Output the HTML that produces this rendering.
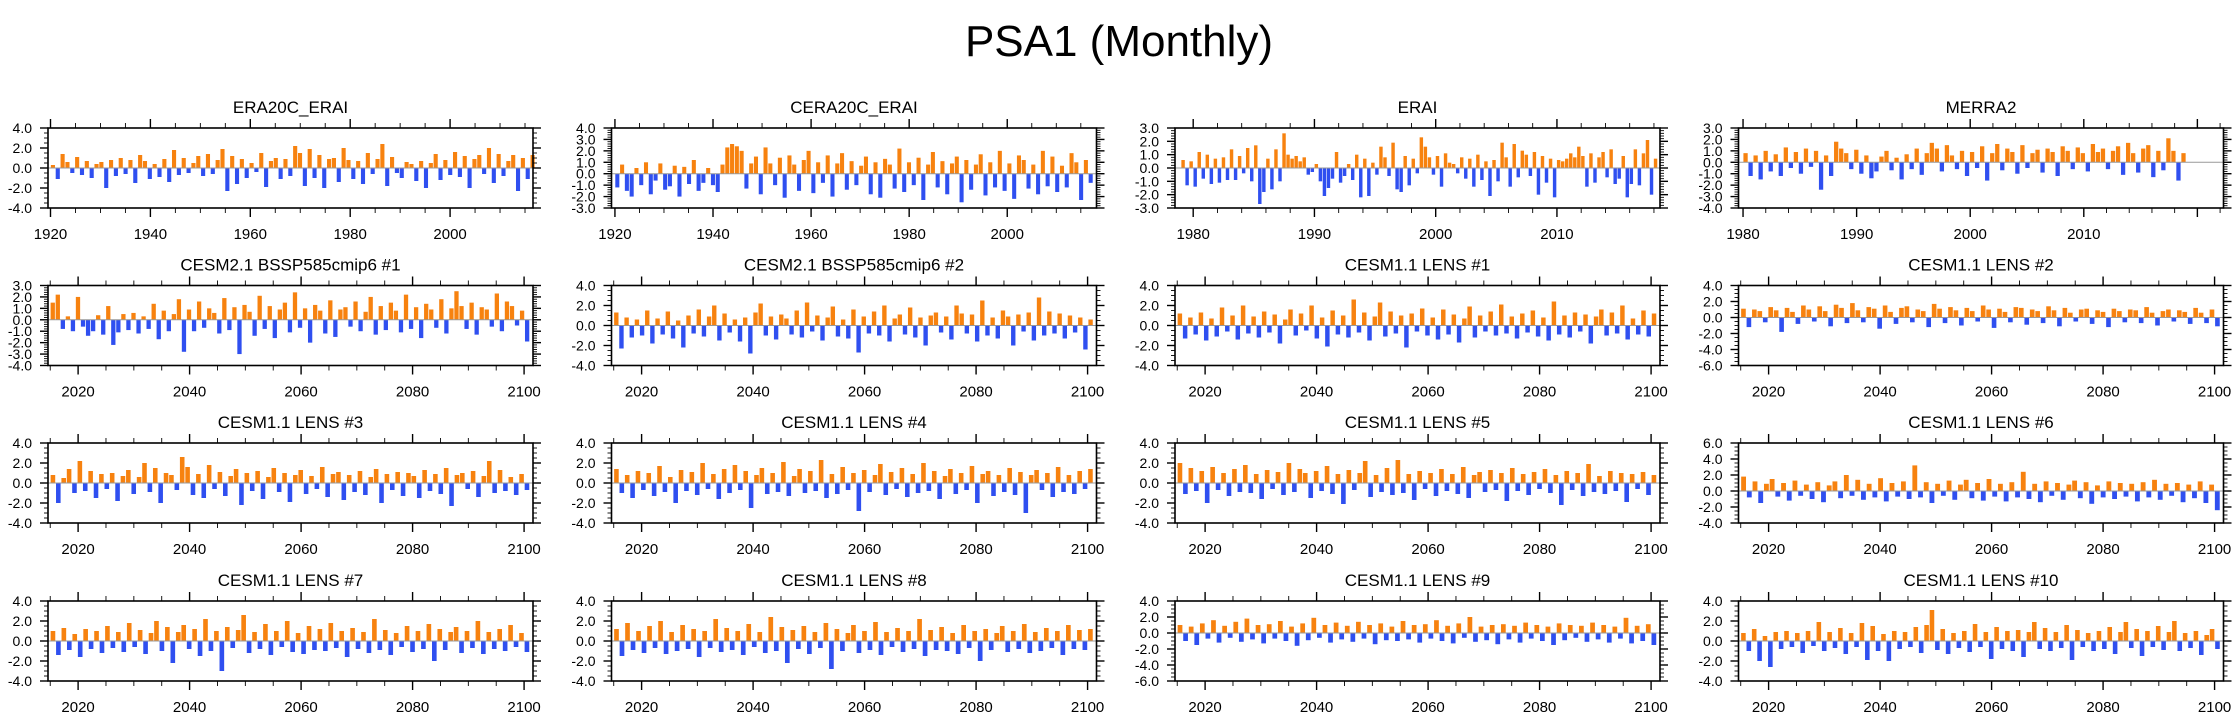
<!DOCTYPE html>
<html><head><meta charset="utf-8">
<style>
html,body{margin:0;padding:0;background:#fff;}
svg{display:block;font-family:"Liberation Sans",sans-serif;}
</style></head>
<body>
<svg id="fig" width="2238" height="719" viewBox="0 0 2238 719">
<text x="1119" y="56" text-anchor="middle" font-size="44">PSA1 (Monthly)</text>
</svg>
<script>
// ---- data arrays ----
const titles = ["ERA20C_ERAI","CERA20C_ERAI","ERAI","MERRA2",
"CESM2.1 BSSP585cmip6 #1","CESM2.1 BSSP585cmip6 #2","CESM1.1 LENS #1","CESM1.1 LENS #2",
"CESM1.1 LENS #3","CESM1.1 LENS #4","CESM1.1 LENS #5","CESM1.1 LENS #6",
"CESM1.1 LENS #7","CESM1.1 LENS #8","CESM1.1 LENS #9","CESM1.1 LENS #10"];
const xRanges = [[1919.5,2016.6],[1919.3,2018.2],[1978.5,2018.5],[1979.6,2022.3],
[2014.6,2101.6],[2014.6,2101.6],[2014.6,2101.6],[2014.6,2101.6],
[2014.6,2101.6],[2014.6,2101.6],[2014.6,2101.6],[2014.6,2101.6],
[2014.6,2101.6],[2014.6,2101.6],[2014.6,2101.6],[2014.6,2101.6]];
const dataSpans = [[1920,2017],[1920,2017.5],[1979,2018.3],[1980,2019],
[2015,2101],[2015,2101],[2015,2101],[2015,2101],[2015,2101],[2015,2101],[2015,2101],[2015,2101],
[2015,2101],[2015,2101],[2015,2101],[2015,2101]];
const yRanges = [[-4,4,2],[-3,4,1],[-3,3,1],[-4,3,1],
[-4,3,1],[-4,4,2],[-4,4,2],[-6,4,2],
[-4,4,2],[-4,4,2],[-4,4,2],[-4,6,2],
[-4,4,2],[-4,4,2],[-6,4,2],[-4,4,2]];
const xTickLabels = [[1920,1940,1960,1980,2000],[1920,1940,1960,1980,2000],[1980,1990,2000,2010],[1980,1990,2000,2010],
[2020,2040,2060,2080,2100]];
const s1=[0.3,-1.1,1.4,0.6,-0.5,1.1,-0.7,0.7,-1.0,0.4,0.6,-2.0,0.8,-0.8,1.0,-0.6,0.8,-1.5,1.3,0.7,-1.1,0.4,-0.9,0.9,-1.4,1.8,-0.7,1.0,-0.5,0.5,1.2,-0.8,1.4,-0.6,0.8,1.9,-2.3,1.2,-1.6,0.9,-1.0,0.5,-0.4,1.5,-1.9,0.7,1.0,-1.1,0.9,-0.8,2.2,1.5,-1.8,1.9,-1.0,1.3,-2.0,0.9,1.0,-1.4,2.0,0.8,-1.1,0.7,-1.6,1.5,-0.6,0.9,2.4,-1.8,1.1,-0.5,-1.0,0.6,0.4,-1.3,0.7,-2.0,0.5,1.4,-1.2,0.8,-0.7,1.6,-0.9,1.2,-2.0,0.9,1.3,-0.6,2.0,-1.5,1.4,-0.8,0.7,1.3,-2.3,1.0,-1.1,1.3];
const s2=[-1.2,0.8,-1.5,-2.0,0.5,-1.0,1.0,-1.8,-0.6,0.9,-1.4,-1.1,0.7,-2.0,0.6,-0.9,1.2,-1.5,-0.8,0.5,-1.0,-1.6,0.8,2.3,2.6,2.4,2.0,-1.3,0.9,1.5,-1.8,2.3,0.9,-1.0,1.4,-2.1,1.6,0.8,-1.5,1.2,2.0,-1.7,1.0,-0.8,1.6,-2.0,0.9,1.8,-1.4,1.1,-1.0,0.7,1.5,-1.8,1.0,-2.1,1.3,0.8,-1.3,2.2,-1.6,1.0,-1.0,1.4,-2.3,0.8,1.9,-1.2,1.1,-1.8,0.9,1.5,-2.5,1.2,-1.4,0.8,1.7,-1.9,1.0,-1.2,2.0,-1.5,0.9,-2.2,1.6,1.2,-1.3,0.8,-1.8,2.0,-1.1,1.5,-1.6,0.7,-1.2,1.8,1.0,-2.3,1.2,-0.8];
const s3=[0.6,-1.3,0.5,-1.4,1.2,-0.8,1.0,-1.2,0.7,-1.1,0.8,-0.9,1.4,-0.9,0.9,-0.4,1.5,-1.0,1.7,-2.7,-1.8,0.7,-1.6,1.4,-1.0,2.6,1.0,0.7,0.9,0.5,0.8,-0.5,-0.3,0.3,-1.0,-2.1,-1.5,-0.8,1.2,-1.1,-0.6,0.3,-0.9,1.0,-2.2,0.7,-2.1,0.4,-0.5,1.6,0.8,-0.6,1.9,-1.6,-1.8,0.9,-1.3,0.7,-0.4,2.3,1.6,0.8,-0.5,0.9,-1.4,1.1,0.4,0.3,-0.4,0.8,-0.8,0.7,-1.4,1.0,-0.9,0.5,-2.1,0.6,-1.0,1.9,0.8,-1.4,1.8,-0.7,1.3,1.0,-0.6,1.2,-2.0,0.9,-1.1,0.7,-2.2,0.6,0.5,0.7,1.1,0.8,1.6,0.9,-1.4,1.1,-1.1,0.8,1.2,-0.7,1.4,-1.2,-0.8,0.9,-2.2,-1.2,1.4,-1.3,1.1,2.1,-2.0,0.7];
const s4=[0.8,-1.2,0.6,-1.5,1.0,-0.8,0.7,-1.2,1.3,-0.5,0.9,-1.0,1.2,-0.4,1.0,-2.4,0.6,-1.2,1.8,1.2,0.8,-0.6,1.1,-1.0,0.6,-1.4,-0.8,0.5,1.0,-0.7,0.4,-1.5,0.7,-0.6,1.2,-1.1,0.8,1.7,1.2,-0.8,1.5,0.6,-0.6,1.0,-1.2,0.9,-0.5,1.4,-1.6,0.8,1.6,-0.7,1.2,0.9,-1.0,1.5,-0.5,0.8,1.1,-0.9,1.2,0.9,-1.2,1.4,1.0,-0.6,1.3,0.8,-0.8,1.6,0.9,1.2,-0.6,1.0,1.4,-1.1,1.7,0.8,-0.9,1.2,1.5,-1.3,1.0,-0.7,2.1,1.0,-1.6,0.8];
const s5=[1.5,2.2,-0.8,0.3,-1.0,2.0,-0.6,-1.4,-1.0,0.4,-1.3,1.2,-2.2,-1.1,0.5,-0.9,0.6,-1.2,0.3,-0.8,1.4,-1.7,0.8,-1.0,0.5,1.8,-2.8,0.9,-1.0,1.6,-0.7,1.0,0.6,-1.2,1.9,-0.9,1.1,-3.0,1.3,0.7,-1.4,2.1,-0.8,1.2,-1.6,0.9,1.5,-1.1,2.4,-0.7,1.0,-2.0,1.3,0.8,-1.2,1.7,-1.5,0.9,1.1,-0.6,1.6,-1.0,0.7,2.0,-1.3,1.2,-0.9,1.5,0.8,-1.1,2.2,-0.8,1.1,-1.6,1.4,0.9,-0.7,1.8,-1.2,1.0,2.5,1.2,-0.8,1.5,-1.3,1.1,0.9,-0.6,2.3,-1.0,1.6,1.2,-0.5,0.8,-1.9];
const s6=[1.3,-2.3,0.8,-1.2,0.6,-1.0,1.5,-1.8,0.7,-0.9,1.4,-1.3,0.5,-2.2,1.0,-0.8,1.6,-1.1,0.9,2.0,-1.5,1.2,-0.7,0.6,-1.6,0.8,-2.8,1.3,2.2,-1.0,0.9,-1.4,1.1,0.7,-0.9,1.5,-1.2,2.3,-0.6,1.0,-1.5,0.8,1.9,-1.1,0.6,-1.3,1.6,-2.7,0.9,-0.8,1.4,-1.0,2.0,-1.6,0.7,1.1,-0.9,1.8,-1.2,0.8,-2.0,1.0,1.3,-0.7,0.9,-1.4,2.0,1.2,-0.8,1.1,-1.6,2.5,-1.0,0.8,-1.3,1.5,0.9,-2.0,1.1,-0.6,1.3,-1.5,2.8,-1.0,1.4,-0.8,1.2,-1.3,1.0,-0.7,0.8,-2.4,0.6];
const s7=[1.2,-1.3,0.8,-0.9,1.3,-1.5,0.7,-1.1,1.8,-0.6,1.0,-1.4,2.0,-0.8,0.9,-1.2,1.4,-0.7,1.1,-1.8,0.6,1.6,-1.0,1.2,-0.5,2.0,-1.3,0.8,-2.1,1.5,-0.9,1.0,-1.2,2.6,-0.7,1.3,-1.5,0.9,2.3,-1.1,1.4,-0.8,1.0,-2.2,1.2,-0.6,1.7,-1.0,0.8,-1.4,1.6,-0.9,1.1,-1.7,0.7,1.9,-1.2,1.0,-0.6,1.4,-1.0,2.1,-0.8,0.9,-1.3,1.2,-0.7,1.5,-1.1,0.8,-1.5,2.4,-0.9,1.0,-1.2,1.3,-0.6,1.1,-1.8,0.9,1.6,-1.0,1.3,-0.8,2.0,-1.4,0.7,-0.9,1.5,-1.1,1.2];
const s8=[1.1,-1.2,1.0,0.8,-0.6,1.3,0.9,-1.8,1.2,0.7,-0.8,1.5,1.0,-0.5,1.4,0.8,-1.1,1.6,1.2,-0.7,1.8,0.9,-0.6,1.3,1.1,-1.4,1.5,0.7,-0.8,1.2,1.4,-0.6,1.0,0.8,-1.2,1.7,1.1,-0.7,1.3,0.9,-1.0,1.2,0.8,-0.5,1.5,1.0,-1.3,1.1,0.7,-0.6,1.3,1.2,-0.9,1.0,0.8,-0.7,1.4,0.9,-1.1,1.2,0.6,-0.5,1.0,1.1,-0.8,0.9,0.7,-1.2,1.1,0.8,-0.6,1.0,0.9,-0.7,1.3,0.6,-1.0,0.8,1.0,-0.5,0.9,0.7,-0.8,1.2,0.6,-0.7,1.0,-1.1];
const s9=[0.8,-2.0,0.5,1.4,-1.0,2.2,-0.8,1.2,-1.5,0.9,-0.6,1.0,-1.8,0.7,1.3,-1.1,0.6,2.0,-0.9,1.5,-2.0,1.0,0.8,-0.7,2.6,1.6,-1.2,0.9,-1.5,1.8,-0.6,1.1,-1.3,0.7,1.4,-2.2,1.0,-0.8,1.2,-1.6,0.6,1.5,-0.9,1.0,-1.9,0.8,1.3,-1.1,0.7,-0.6,1.6,-1.4,0.9,1.1,-1.7,0.8,-0.9,1.2,-1.2,0.6,1.4,-2.0,0.9,-0.7,1.1,-1.3,1.0,0.7,-1.5,1.3,-0.8,0.9,-1.1,1.5,-2.3,0.8,1.0,-0.6,1.2,-1.4,0.7,2.2,-1.0,1.3,-0.8,0.6,-1.2,0.9,-0.7];
const s10=[1.4,-1.0,0.8,-1.5,1.2,-0.7,1.0,-1.3,1.7,-0.9,0.6,-2.0,1.3,-0.8,1.1,-1.2,2.0,-0.6,0.9,-1.6,1.4,-1.0,1.8,-0.7,1.2,-2.5,0.8,1.5,-1.1,1.0,-0.9,2.1,-1.3,0.7,1.4,-1.0,1.2,-0.8,2.3,-1.5,0.9,-1.1,1.6,-0.7,1.0,-2.8,1.3,-0.9,0.8,1.9,-1.2,1.1,-0.6,1.5,-1.4,0.9,-1.0,2.0,-0.8,1.2,-1.6,0.7,1.4,-1.1,1.0,-0.7,1.7,-2.0,0.9,1.2,-1.3,0.8,-0.9,1.5,-1.2,1.1,-3.0,0.8,1.3,-0.7,1.0,-1.4,1.6,-0.9,0.8,-1.1,1.2,-0.6,1.4];
const s11=[2.0,-1.1,1.5,-0.8,1.2,-2.0,1.6,-0.7,1.0,-1.3,1.4,-0.9,1.8,-1.0,0.9,-1.6,1.3,-0.6,1.1,-1.2,2.0,-0.9,1.4,1.0,-1.5,1.2,-0.8,1.7,-1.1,0.9,-2.1,1.3,-0.7,1.0,2.2,-1.4,0.8,-0.9,1.5,-1.2,2.3,-1.0,0.9,-1.7,1.2,-0.6,1.0,-1.3,1.4,-0.8,0.9,-1.1,1.6,-1.5,0.8,1.1,-0.9,1.3,-0.7,1.0,-1.8,1.5,-0.8,0.9,-1.2,1.1,-0.6,1.4,-1.0,0.8,-2.2,1.2,-0.7,1.0,-1.3,1.9,-0.9,0.7,-1.1,1.2,-0.8,1.0,-1.9,0.9,-0.6,1.1,-1.2,0.8];
const s12=[1.8,-0.8,1.2,-1.5,0.9,1.5,-0.7,1.0,-1.2,1.3,-0.6,0.8,-1.0,1.1,-1.4,0.7,1.2,-0.9,2.0,-0.6,1.4,-1.1,0.9,-0.8,1.6,-1.3,1.0,-0.7,1.2,-1.0,3.2,-0.8,1.1,-1.5,0.9,-0.6,1.3,-1.1,0.8,1.4,-0.9,1.0,-1.2,1.5,-0.7,0.9,-1.3,1.1,-0.8,2.4,-1.0,0.9,-1.4,1.2,-0.6,1.0,-1.1,0.8,1.3,-0.9,1.1,-1.6,0.7,-0.8,1.2,-1.0,1.0,-0.7,0.9,-1.3,1.1,-0.8,1.4,-1.1,0.9,-0.6,1.0,-1.4,0.8,-0.9,1.2,-1.5,0.8,-2.4];
const s13=[1.0,-1.4,1.3,-0.9,0.7,-1.6,1.2,-0.8,1.0,-1.2,1.5,-0.7,0.9,-1.1,1.8,-0.6,1.1,-1.3,0.8,2.0,-1.0,1.4,-2.2,0.9,1.6,-0.8,1.2,-1.5,2.2,-1.0,1.0,-3.0,1.4,-0.7,1.1,2.6,-1.2,0.9,-0.8,1.7,-1.4,1.0,-0.6,2.0,-1.1,0.8,-1.3,1.5,-0.9,1.2,-1.0,1.8,-0.7,1.0,-1.6,1.3,-0.8,0.9,-1.2,2.2,-0.9,1.1,-1.4,0.8,-0.6,1.5,-1.1,1.0,-0.8,1.7,-2.0,1.2,-0.9,0.9,1.4,-1.2,1.0,-0.7,2.0,-1.3,0.9,-0.8,1.2,-1.0,1.6,-0.6,0.8,-1.1];
const s14=[1.2,-1.5,1.8,-0.9,1.0,-1.2,1.5,-0.7,2.0,-1.3,0.9,-1.0,1.6,-0.8,1.2,-1.6,1.0,-0.7,2.2,-1.1,1.3,-0.9,1.0,-1.4,1.7,-0.6,0.9,-1.2,2.4,-1.0,1.4,-2.2,1.1,-0.8,1.5,-1.3,0.9,-0.7,1.8,-2.8,1.2,-1.0,0.8,1.6,-1.2,1.0,-0.9,1.9,-1.4,0.9,-0.6,1.3,-1.1,1.0,-0.8,2.2,-1.5,1.1,-0.9,1.4,-1.0,0.8,-1.3,1.6,-0.7,1.0,-2.0,1.2,-0.9,0.8,1.5,-1.1,1.0,-0.8,1.7,-1.2,0.9,-1.0,1.3,-0.7,1.0,-1.4,1.6,-0.8,1.1,-0.9,1.2];
const s15=[1.0,-1.0,0.8,-1.5,1.2,-0.7,1.6,-1.2,0.9,-0.6,1.4,-1.1,1.8,-0.8,1.0,-1.3,1.1,-0.7,1.5,-1.0,0.8,-1.6,1.2,-0.9,1.9,-0.6,1.0,-1.2,1.3,-0.8,0.9,-1.1,1.4,-0.7,1.0,-1.4,1.2,-0.9,0.8,-1.0,1.5,-0.8,1.0,-1.2,1.1,-0.7,1.6,-1.0,0.9,-1.3,1.2,-0.6,2.0,-1.1,0.8,-0.9,1.0,-1.4,1.1,-0.8,0.9,-1.2,1.3,-0.7,1.0,-1.0,0.8,-1.5,1.2,-0.9,1.0,-0.6,0.9,-1.1,1.3,-0.8,1.0,-1.2,0.8,-0.7,1.9,-1.3,0.9,-1.0,1.1,-1.5];
const s16=[0.8,-1.0,1.2,-2.0,0.5,-2.6,0.9,-0.8,1.0,-0.6,0.8,-1.2,1.0,-0.5,1.9,-1.0,0.9,-0.7,1.3,-1.3,0.8,-0.6,1.8,-1.9,1.5,-1.0,0.7,-2.0,1.0,-0.8,0.9,-0.6,1.4,-1.2,1.6,3.1,-0.9,1.2,-1.3,0.8,-0.7,1.0,-1.1,1.7,-0.6,0.9,-1.8,1.4,-0.8,1.0,-1.0,1.1,-1.6,0.9,1.9,-0.8,1.3,-1.0,0.9,-0.7,1.6,-1.9,1.1,-0.6,0.8,-1.0,1.0,-0.8,1.4,-1.3,0.9,1.9,-0.7,1.2,-1.5,1.0,-0.6,1.5,-0.9,0.9,2.0,-1.0,0.8,-0.7,1.0,-1.4,0.6,1.2,-0.8];
const series=[s1,s2,s3,s4,s5,s6,s7,s8,s9,s10,s11,s12,s13,s14,s15,s16];

// ---- drawing ----
const NS="http://www.w3.org/2000/svg";
const svg=document.getElementById('fig');
const W=485,H=80;
const lefts=[48,611.5,1175,1738.5], tops=[128,285.5,443,601];
function mk(tag,attrs,parent){const e=document.createElementNS(NS,tag);for(const k in attrs)e.setAttribute(k,attrs[k]);parent.appendChild(e);return e;}
for(let p=0;p<16;p++){
  const col=p%4,row=Math.floor(p/4);
  const L=lefts[col],T=tops[row];
  const [x0,x1]=xRanges[p],[y0,y1,ys]=yRanges[p];
  const X=v=>L+(v-x0)/(x1-x0)*W;
  const Y=v=>T+(y1-v)/(y1-y0)*H;
  const g=mk('g',{},svg);
  
  
  const t=mk('text',{x:L+W/2,y:T-15,'text-anchor':'middle','font-size':17},g);
  t.textContent=titles[p];
  
  
  const vals=series[p],[d0,d1]=dataSpans[p],n=vals.length,step=(d1-d0)/n;
  const bw=Math.max(1.2,(X(d0+step)-X(d0))*0.85);
  for(let i=0;i<n;i++){
    const v=vals[i],xc=X(d0+(i+0.5)*step);
    const yTop=Math.min(Y(v),Y(0)),hh=Math.abs(Y(v)-Y(0));
    const b=mk('rect',{x:xc-bw/2,y:yTop,width:bw,height:hh,fill:v>=0?'#f7820f':'#2f4ff0'},g);
    
    
  }
  mk('line',{x1:L,x2:L+W,y1:Y(0),y2:Y(0),stroke:'#999','stroke-width':1},g);
  const fr=mk('rect',{x:L,y:T,width:W,height:H,fill:'none',stroke:'#000','stroke-width':1.6},g);
  
  
  const minorY=ys===2?0.5:0.2;
  for(let v=y0;v<=y1+1e-6;v+=minorY){
    const isMaj=Math.abs(v/ys-Math.round(v/ys))<1e-6;
    const len=isMaj?8:4,yy=Y(v);
    mk('line',{x1:L-len,x2:L,y1:yy,y2:yy,stroke:'#000','stroke-width':isMaj?1.4:0.9},g);
    mk('line',{x1:L+W,x2:L+W+len,y1:yy,y2:yy,stroke:'#000','stroke-width':isMaj?1.4:0.9},g);
    if(isMaj){
      const lb=mk('text',{x:L-16,y:yy+5,'text-anchor':'end','font-size':14},g);
      lb.textContent=(Math.round(v*10)/10).toFixed(1);
      
      
    }
  }
  const labs=xTickLabels[Math.min(p,4)];
  const major=labs[1]-labs[0],minorX=major===10?2:5;
  for(let v=Math.ceil(x0/minorX)*minorX;v<=x1;v+=minorX){
    const isMaj=(v%major)===0,len=isMaj?9:5,xx=X(v);
    mk('line',{x1:xx,x2:xx,y1:T+H,y2:T+H+len,stroke:'#000','stroke-width':isMaj?1.4:0.9},g);
    mk('line',{x1:xx,x2:xx,y1:T-len,y2:T,stroke:'#000','stroke-width':isMaj?1.4:0.9},g);
  }
  for(const v of labs){
    const lb=mk('text',{x:X(v),y:T+H+31,'text-anchor':'middle','font-size':15},g);
    lb.textContent=v;
    
    
  }
}
</script>
</body></html>
